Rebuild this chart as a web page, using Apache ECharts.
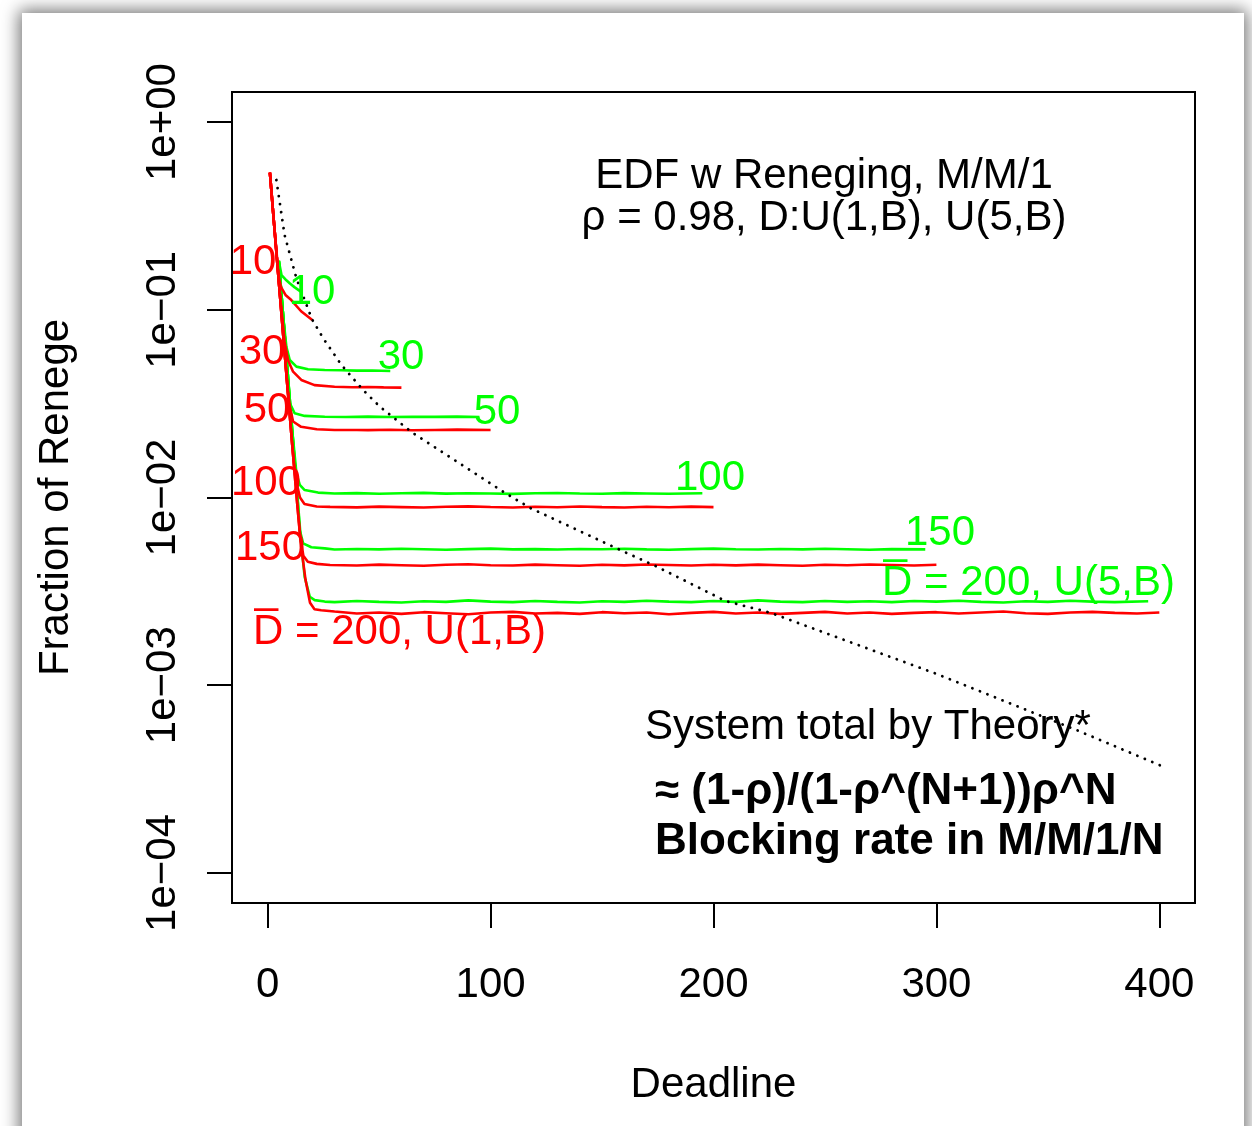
<!DOCTYPE html>
<html><head><meta charset="utf-8">
<script src="https://cdn.jsdelivr.net/npm/echarts@6/dist/echarts.min.js"></script>
<style>
html,body{margin:0;padding:0;background:#fff;width:1252px;height:1126px;overflow:hidden;}
#frame{position:absolute;left:22px;top:13px;width:1222px;height:1140px;background:#fff;box-shadow:0 0 16px 3px rgba(0,0,0,0.55);}
#chart{position:absolute;left:0;top:0;width:1252px;height:1126px;}
</style></head>
<body><div id="frame"></div><div id="chart"></div>
<script>
// ---- data (deadline, fraction of renege) ----
const xTicks = [0, 100, 200, 300, 400];
const yTicks = [1, 0.1, 0.01, 0.001, 0.0001];
const yTickLabels = ['1e+00', '1e\u221201', '1e\u221202', '1e\u221203', '1e\u221204'];

const red10 = [[1,0.537],[3,0.275],[5,0.148],[6,0.132],[8,0.120],[10.6,0.1127],[15,0.0982],[20,0.0881]];
const red30 = [[1,0.537],[3,0.275],[5,0.141],[7.6,0.0676],[9.1,0.0540],[11.4,0.0468],[15.1,0.0423],[21,0.0397],[30,0.0389],[38,0.03865],[45,0.0388],[52,0.0386],[60,0.0385]];
const red50 = [[1,0.537],[3,0.275],[5,0.141],[7,0.0724],[9,0.0372],[10,0.0302],[11.4,0.0254],[15,0.0238],[22,0.0231],[30,0.0229],[40,0.0229],[45,0.02285],[55,0.02295],[65,0.02282],[75,0.0229],[85,0.02298],[100,0.02287]];
const red100 = [[1,0.537],[3,0.275],[5,0.141],[7,0.0724],[9,0.0372],[11,0.0191],[12.5,0.0126],[14.5,0.0100],[16.5,0.00923],[22,0.00895],[28,0.00891],[40,0.00886],[50,0.00894],[60,0.00889],[70,0.00884],[80,0.00892],[90,0.00897],[100,0.0089],[110,0.00885],[120,0.00893],[130,0.00888],[140,0.00895],[150,0.00889],[160,0.00884],[170,0.00892],[180,0.00888],[190,0.00894],[200,0.00889]];
const red150 = [[1,0.537],[3,0.275],[5,0.141],[7,0.0724],[9,0.0372],[11,0.0191],[13,0.0100],[14.5,0.00631],[16,0.0049],[18,0.00455],[22,0.00443],[28,0.00437],[40,0.00434],[50,0.00439],[60,0.00436],[70,0.00433],[80,0.00438],[90,0.00441],[100,0.00436],[110,0.00434],[120,0.00439],[130,0.00436],[140,0.00433],[150,0.00438],[160,0.00435],[170,0.0044],[180,0.00437],[190,0.00434],[200,0.00438],[210,0.00435],[220,0.00439],[230,0.00436],[240,0.00433],[250,0.00438],[260,0.00436],[270,0.0044],[280,0.00437],[290,0.00434],[300,0.00438]];
const red200 = [[1,0.537],[3,0.275],[5,0.141],[7,0.0724],[9,0.0372],[11,0.0191],[13,0.0100],[15,0.0055],[17,0.00363],[19,0.00275],[21,0.00254],[24,0.00251],[30,0.00247],[40,0.00241],[50,0.00244],[60,0.0024],[70,0.00245],[80,0.00242],[90,0.00239],[100,0.00244],[110,0.00246],[120,0.00241],[130,0.00243],[140,0.0024],[150,0.00245],[160,0.00242],[170,0.00244],[180,0.00239],[190,0.00243],[200,0.00246],[210,0.00241],[220,0.00244],[230,0.0024],[240,0.00243],[250,0.00246],[260,0.00241],[270,0.00244],[280,0.0024],[290,0.00243],[300,0.00245],[310,0.00241],[320,0.00244],[330,0.00247],[340,0.00242],[350,0.0024],[360,0.00244],[370,0.00246],[380,0.00243],[390,0.00241],[400,0.00244]];

const green10 = [[5,0.182],[6.2,0.153],[8,0.145],[10,0.138],[12,0.132],[15,0.1245]];
const green30 = [[5,0.182],[7,0.0912],[8.4,0.0635],[9.9,0.054],[12.9,0.0498],[18.1,0.0482],[25.6,0.0478],[33,0.0476],[40,0.0474],[47,0.0475],[55,0.0472]];
const green50 = [[5,0.182],[7,0.0912],[9,0.0457],[9.9,0.0318],[12.1,0.0281],[16.6,0.0272],[25.6,0.0269],[35,0.02686],[45,0.02696],[55,0.02683],[65,0.02692],[75,0.02688],[85,0.02697],[95,0.02685]];
const green100 = [[5,0.182],[7,0.0912],[9,0.0457],[11,0.0229],[12.9,0.01346],[14.4,0.01167],[16.6,0.01096],[22.6,0.01062],[30,0.0105],[40,0.01055],[50,0.01047],[60,0.01053],[70,0.01058],[80,0.01049],[90,0.01054],[100,0.01051],[110,0.01046],[120,0.01053],[130,0.01057],[140,0.0105],[150,0.01048],[160,0.01055],[170,0.01051],[180,0.01047],[195,0.01054]];
const green150 = [[5,0.182],[7,0.0912],[9,0.0457],[11,0.0229],[13,0.01148],[14.4,0.00671],[15.9,0.0057],[19.6,0.00543],[25.6,0.00536],[30,0.00528],[40,0.00532],[50,0.00529],[60,0.00533],[70,0.0053],[80,0.00527],[90,0.00531],[100,0.00534],[110,0.00529],[120,0.00531],[130,0.00528],[140,0.00532],[150,0.0053],[160,0.00533],[170,0.00529],[180,0.00527],[190,0.00531],[200,0.00534],[210,0.0053],[220,0.00528],[230,0.00532],[240,0.00529],[250,0.00533],[260,0.0053],[270,0.00527],[280,0.00531],[295,0.00529]];
const green200 = [[5,0.182],[7,0.0912],[9,0.0457],[11,0.0229],[13,0.01148],[15,0.00575],[16.6,0.00378],[18.9,0.00296],[21.1,0.00284],[25.6,0.00279],[30,0.00277],[40,0.00281],[50,0.00278],[60,0.00276],[70,0.0028],[80,0.00278],[90,0.00283],[100,0.00279],[110,0.00277],[120,0.00281],[130,0.00278],[140,0.00276],[150,0.0028],[160,0.00278],[170,0.00282],[180,0.00279],[190,0.00277],[200,0.00281],[210,0.00278],[220,0.00283],[230,0.00279],[240,0.00277],[250,0.00281],[260,0.00278],[270,0.0028],[280,0.00277],[290,0.00281],[300,0.00279],[310,0.00282],[320,0.00278],[330,0.00276],[340,0.0028],[350,0.00278],[360,0.00282],[370,0.00279],[380,0.00277],[395,0.0028]];

const theory = [[3.9,0.491],[7.6,0.25],[12.9,0.147],[19.9,0.0889],[24.9,0.0705],[33.1,0.0508],[42.8,0.0374],[50.3,0.0305],[61.6,0.0238],[65.3,0.022],[106.5,0.01057],[117.8,0.00879],[158.2,0.00525],[173.9,0.00432],[205.4,0.00281],[225.6,0.00243],[300,0.00115],[362.7,0.000578],[400.9,0.000372]];

// ---- rendering ----
const FONT = '"Liberation Sans", Arial, Helvetica, sans-serif';
const RED = '#ff0000', GREEN = '#00ff00';
const toLog = arr => arr.map(p => [p[0], Math.log10(p[1])]);
const lineSeries = (data, color) => ({
  type: 'line', data: toLog(data), showSymbol: false, symbol: 'none',
  lineStyle: { color: color, width: 2.6 }, z: color === RED ? 3 : 2, silent: true
});

function T(x, y, text, color, align, bold) {
  return { type: 'text', x: x, y: y, z: 10,
    style: { text: text, fill: color, font: (bold ? 'bold 44px ' : '42px ') + FONT,
      align: align || 'center', verticalAlign: 'middle' } };
}

const yTickVals = yTicks.map(v => Math.round(Math.log10(v)));
const chart = echarts.init(document.getElementById('chart'), null, { renderer: 'canvas' });
chart.setOption({
  animation: false,
  backgroundColor: 'transparent',
  grid: { left: 232, top: 92, width: 963, height: 811, show: true, borderColor: '#000', borderWidth: 2, backgroundColor: 'transparent' },
  xAxis: {
    type: 'value', min: -16, max: 416, position: 'bottom',
    axisLine: { show: false, onZero: false },
    splitLine: { show: false },
    axisTick: { show: true, inside: false, length: 25, customValues: xTicks, lineStyle: { color: '#000', width: 2 } },
    axisLabel: { customValues: xTicks, margin: 61, color: '#000', fontSize: 42, fontFamily: FONT },
    name: 'Deadline', nameLocation: 'middle', nameGap: 161,
    nameTextStyle: { color: '#000', fontSize: 42, fontFamily: FONT }
  },
  yAxis: {
    type: 'value', min: -4.16, max: 0.16, position: 'left',
    axisLine: { show: false, onZero: false },
    splitLine: { show: false },
    axisTick: { show: true, inside: false, length: 25, customValues: yTickVals, lineStyle: { color: '#000', width: 2 } },
    axisLabel: { customValues: yTickVals, rotate: 90, margin: 48, color: '#000', fontSize: 42, fontFamily: FONT,
      formatter: v => yTickLabels[yTickVals.indexOf(Math.round(v))] },
    name: 'Fraction of Renege', nameLocation: 'middle', nameGap: 155, nameRotate: 90,
    nameTextStyle: { color: '#000', fontSize: 42, fontFamily: FONT }
  },
  series: [
    lineSeries(green10, GREEN), lineSeries(green30, GREEN), lineSeries(green50, GREEN),
    lineSeries(green100, GREEN), lineSeries(green150, GREEN), lineSeries(green200, GREEN),
    lineSeries(red10, RED), lineSeries(red30, RED), lineSeries(red50, RED),
    lineSeries(red100, RED), lineSeries(red150, RED), lineSeries(red200, RED),
    { type: 'line', data: toLog(theory), showSymbol: false, symbol: 'none', silent: true, z: 5,
      lineStyle: { color: '#000', width: 2.8, type: [0.1, 8], cap: 'round' } }
  ],
  graphic: [
    T(824, 176, 'EDF w Reneging, M/M/1', '#000'),
    T(824, 218, '\u03c1 = 0.98, D:U(1,B), U(5,B)', '#000'),
    T(868, 727, 'System total by Theory*', '#000'),
    T(655, 792, '\u2248 (1-\u03c1)/(1-\u03c1^(N+1))\u03c1^N', '#000', 'left', true),
    T(655, 842, 'Blocking rate in M/M/1/N', '#000', 'left', true),
    T(253, 262, '10', RED), T(262, 352, '30', RED), T(267, 410, '50', RED),
    T(266, 483, '100', RED), T(270, 548, '150', RED),
    T(253, 632, 'D\u0305 = 200, U(1,B)', RED, 'left'),
    T(312, 292, '10', GREEN), T(401, 357, '30', GREEN), T(497, 412, '50', GREEN),
    T(710, 478, '100', GREEN), T(940, 533, '150', GREEN),
    T(882, 583, 'D\u0305 = 200, U(5,B)', GREEN, 'left')
  ]
});
</script>
</body></html>
